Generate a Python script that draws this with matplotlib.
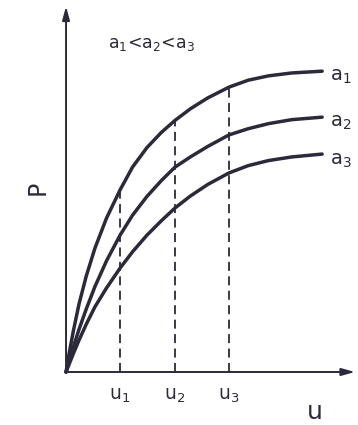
import numpy as np
import matplotlib
matplotlib.use('Agg')
import matplotlib.pyplot as plt

plt.rcParams['font.family'] = 'DejaVu Sans'
plt.rcParams['mathtext.default'] = 'regular'

# values (arbitrary units, origin at 0,0)
u = [0, 0.1, 0.25, 0.45, 0.7, 1.0, 1.4, 1.87, 2.3, 2.8, 3.3, 3.77,
     4.3, 4.9, 5.64, 6.3, 7.0, 7.8, 8.86]
p_a1 = [0, 0.48, 1.12, 1.88, 2.65, 3.42, 4.25, 5.03, 5.66, 6.20, 6.62, 6.95,
        7.27, 7.57, 7.87, 8.06, 8.18, 8.26, 8.31]
p_a2 = [0, 0.28, 0.68, 1.18, 1.74, 2.36, 3.07, 3.78, 4.33, 4.85, 5.29, 5.66,
        5.94, 6.23, 6.55, 6.72, 6.86, 6.97, 7.04]
p_a3 = [0, 0.20, 0.50, 0.88, 1.32, 1.80, 2.32, 2.87, 3.32, 3.78, 4.18, 4.53,
        4.86, 5.18, 5.50, 5.70, 5.84, 5.94, 6.02]
curve_names = ['$a_1$', '$a_2$', '$a_3$']
u_marks = [1.87, 3.77, 5.64]
u_mark_labels = ['$u_1$', '$u_2$', '$u_3$']

ink = '#2c2a3a'

fig = plt.figure(figsize=(3.58, 4.25), dpi=100)
ax = fig.add_axes([0, 0, 1, 1])
ax.set_xlim(-2.284, 10.10)
ax.set_ylim(-1.464, 10.276)
ax.axis('off')

# axes with arrows
arrow = dict(arrowstyle='-|>,head_length=0.8,head_width=0.22',
             color=ink, lw=1.4, shrinkA=0, shrinkB=0)
ax.annotate('', xy=(10.0, 0), xytext=(0, 0), arrowprops=arrow)
ax.annotate('', xy=(0, 10.1), xytext=(0, 0), arrowprops=arrow)

# curves
for p, name, yb in zip([p_a1, p_a2, p_a3], curve_names, [8.04, 6.77, 5.72]):
    ax.plot(u, p, color=ink, lw=2.5, solid_capstyle='round', solid_joinstyle='round')
    ax.text(9.13, yb, name, fontsize=14, color=ink, ha='left', va='baseline')

# dashed guides up to the a1 curve
for um, lab in zip(u_marks, u_mark_labels):
    top = p_a1[u.index(um)]
    ax.plot([um, um], [0, top], color=ink, lw=1.3, linestyle=(0, (5, 3)))
    ax.text(um, -0.77, lab, fontsize=13.5, color=ink, ha='center', va='baseline')

ax.text(2.94, 9.06, '$a_1$<$a_2$<$a_3$', fontsize=12.5, color=ink, ha='center', va='center')
ax.text(8.62, -1.30, 'u', fontsize=18, color=ink, ha='center', va='baseline')
ax.text(-0.97, 5.08, 'P', fontsize=17, color=ink, ha='center', va='center', rotation=90)

fig.savefig('out.png', dpi=100)
